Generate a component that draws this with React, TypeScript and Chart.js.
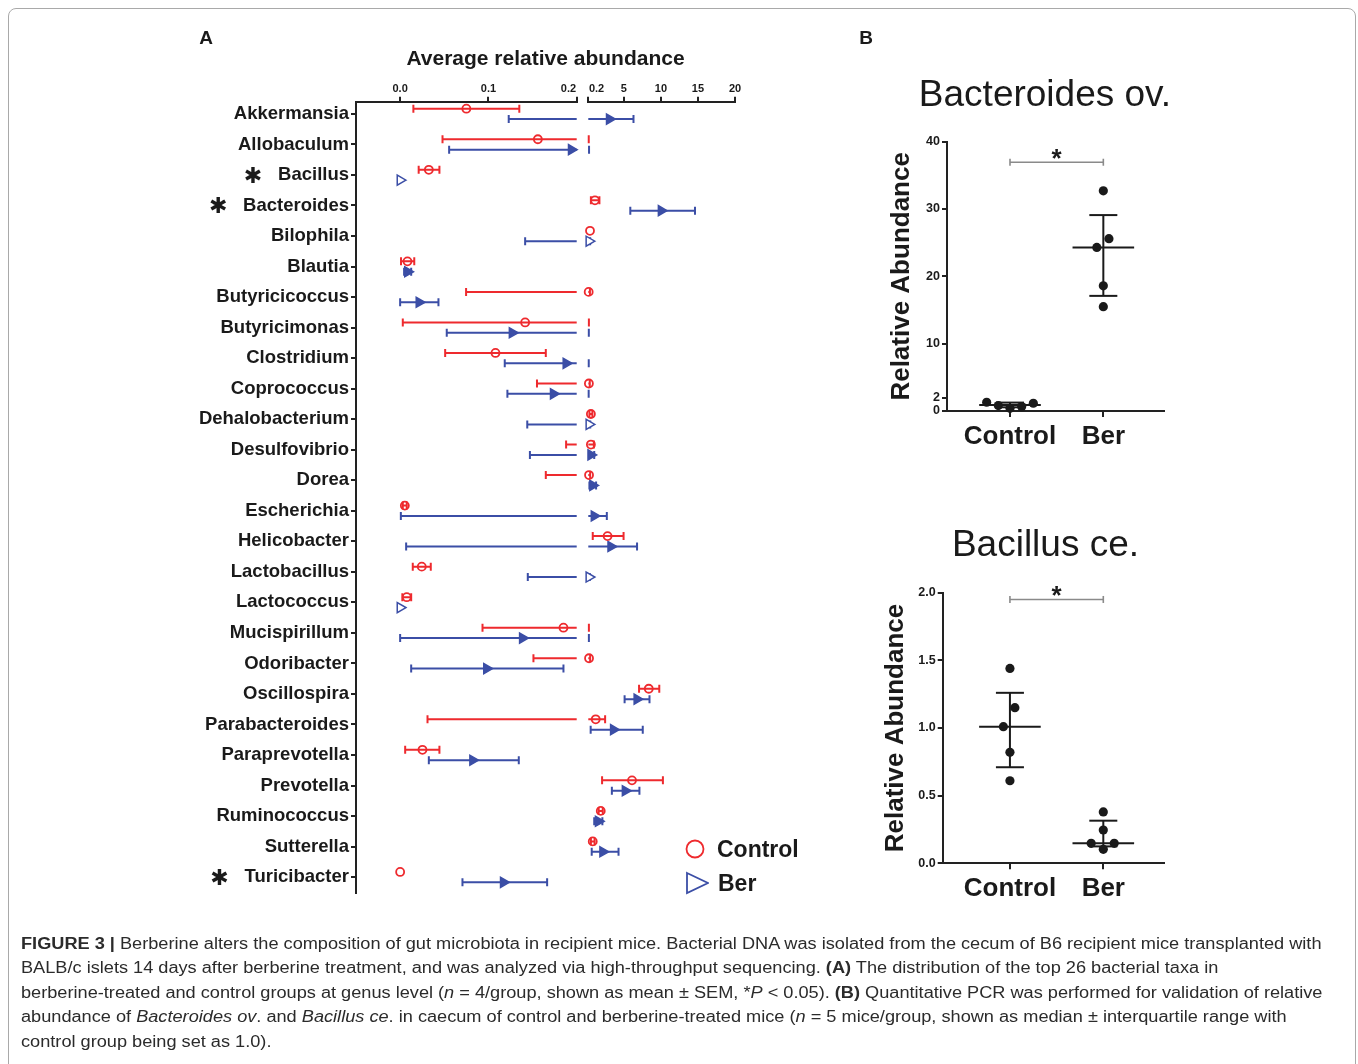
import React, { useEffect, useLayoutEffect, useRef } from 'react';
import { Chart, registerables } from 'chart.js';

Chart.register(...registerables);

const FONT = "'Liberation Sans', Arial, Helvetica, sans-serif";
Chart.defaults.font.family = FONT;
Chart.defaults.color = '#111';

const RED = '#ee2a2e';
const BLUE = '#3b4ea6';
const INK = '#1a1a1a';
const GREY = '#8a8a8a';

// ---------------- Panel A data (average relative abundance) ----------------
const genera = [
  'Akkermansia', 'Allobaculum', 'Bacillus', 'Bacteroides', 'Bilophila', 'Blautia',
  'Butyricicoccus', 'Butyricimonas', 'Clostridium', 'Coprococcus', 'Dehalobacterium',
  'Desulfovibrio', 'Dorea', 'Escherichia', 'Helicobacter', 'Lactobacillus', 'Lactococcus',
  'Mucispirillum', 'Odoribacter', 'Oscillospira', 'Parabacteroides', 'Paraprevotella',
  'Prevotella', 'Ruminococcus', 'Sutterella', 'Turicibacter',
];
const significantGenera = ['Bacillus', 'Bacteroides', 'Turicibacter'];

const controlMean = [0.075, 0.156, 0.0325, 1.1, 0.43, 0.0083, 0.25, 0.1416, 0.108, 0.28, 0.55, 0.55, 0.3, 0.0053, 2.8, 0.0245, 0.0075, 0.185, 0.3, 8.36, 1.2, 0.0253, 6.1, 1.88, 0.8, 0.0];
const controlLow = [0.015, 0.048, 0.021, 0.55, 0.43, 0.001, 0.0747, 0.003, 0.051, 0.155, 0.35, 0.188, 0.165, 0.003, 0.8, 0.0143, 0.0025, 0.0933, 0.151, 7.05, 0.031, 0.0057, 2.06, 1.6, 0.55, 0.0];
const controlHigh = [0.135, 0.26, 0.0445, 1.7, 0.43, 0.016, 0.42, 0.28, 0.165, 0.4, 0.75, 0.95, 0.45, 0.0075, 4.96, 0.0347, 0.0125, 0.28, 0.45, 9.78, 2.47, 0.0445, 10.27, 2.15, 1.05, 0.0];
const berMean = [3.05, 0.194, 0.0, 10.05, 0.3, 0.0085, 0.0215, 0.127, 0.188, 0.1736, 0.3, 0.55, 0.8, 1.0, 3.25, 0.3, 0.0, 0.1386, 0.098, 6.78, 3.6, 0.0823, 5.19, 1.56, 2.16, 0.117];
const berLow = [0.123, 0.0555, 0.0, 5.87, 0.1416, 0.0045, 0.0, 0.0528, 0.1185, 0.1215, 0.144, 0.147, 0.35, 0.0008, 0.0068, 0.1446, 0.0, 0.0, 0.0125, 5.1, 0.52, 0.0325, 3.38, 1.0, 0.66, 0.0706];
const berHigh = [6.3, 0.3, 0.0, 14.6, 0.45, 0.0125, 0.0434, 0.27, 0.26, 0.25, 0.46, 1.0, 1.25, 2.7, 6.78, 0.4, 0.0, 0.28, 0.185, 8.46, 7.55, 0.1344, 7.1, 2.1, 4.28, 0.1665];

const leftTicks = [0, 0.1, 0.2];
const rightTicks = [0.2, 5, 10, 15, 20];
const AXIS_MIN = -0.05;
const BREAK = 0.2;
const AXIS_MAX = 20;
const ROW_OFF = 0.17;

// ---------------- Panel B data (qPCR) ----------------
const groups = ['Control', 'Ber'];
const bacteroidesControl = [1.3, 0.8, 0.4, 0.65, 1.15];
const bacteroidesControlJitter = [-0.25, -0.125, 0, 0.125, 0.25];
const bacteroidesBer = [32.7, 24.3, 25.6, 18.6, 15.5];
const bacteroidesBerJitter = [0, -0.07, 0.06, 0, 0];
const bacteroidesMedian = [0.9, 24.3];
const bacteroidesQ1 = [0.55, 17.1];
const bacteroidesQ3 = [1.25, 29.1];
const bacteroidesTicks = [0, 2, 10, 20, 30, 40];
const bacteroidesSig = 36.95;

const bacillusControl = [1.44, 1.15, 1.01, 0.82, 0.61];
const bacillusControlJitter = [0, 0.053, -0.07, 0, 0];
const bacillusBer = [0.38, 0.246, 0.148, 0.148, 0.103];
const bacillusBerJitter = [0, 0, -0.13, 0.117, 0];
const bacillusMedian = [1.01, 0.148];
const bacillusQ1 = [0.71, 0.125];
const bacillusQ3 = [1.26, 0.315];
const bacillusTicks = [0, 0.5, 1.0, 1.5, 2.0];
const bacillusSig = 1.95;

// ---------------- plugins ----------------
function makeErrorBars(segMin: number, segMax: number) {
  return {
    id: 'errorBars',
    beforeDatasetsDraw(chart: any) {
      const { ctx } = chart;
      const xs = chart.scales.x;
      const ys = chart.scales.y;
      const series = [
        { lo: controlLow, hi: controlHigh, color: RED, dy: -ROW_OFF },
        { lo: berLow, hi: berHigh, color: BLUE, dy: ROW_OFF },
      ];
      ctx.save();
      ctx.lineWidth = 2;
      ctx.lineCap = 'butt';
      for (const s of series) {
        ctx.strokeStyle = s.color;
        genera.forEach((_, i) => {
          const l = s.lo[i];
          const h = s.hi[i];
          if (!(h > l)) return;
          const a = Math.max(l, segMin);
          const b = Math.min(h, segMax);
          if (b < a) return;
          const py = ys.getPixelForValue(i + s.dy);
          const pa = xs.getPixelForValue(a);
          const pb = xs.getPixelForValue(b);
          ctx.beginPath();
          ctx.moveTo(pa, py);
          ctx.lineTo(pb, py);
          if (l >= segMin) {
            ctx.moveTo(pa, py - 4);
            ctx.lineTo(pa, py + 4);
          }
          if (h <= segMax) {
            ctx.moveTo(pb, py - 4);
            ctx.lineTo(pb, py + 4);
          }
          ctx.stroke();
        });
      }
      ctx.restore();
    },
  };
}

const starPlugin = {
  id: 'sigStars',
  afterDraw(chart: any) {
    const { ctx } = chart;
    const ys = chart.scales.y;
    ctx.save();
    significantGenera.forEach((name) => {
      const i = genera.indexOf(name);
      ctx.font = `bold 18.5px ${FONT}`;
      const w = ctx.measureText(name).width;
      const x = ys.right - 7 - w - 25;
      ctx.font = `22px 'DejaVu Sans'`;
      ctx.fillStyle = INK;
      ctx.textAlign = 'center';
      ctx.textBaseline = 'middle';
      ctx.fillText('\u2731', x, ys.getPixelForValue(i) + 2);
    });
    ctx.restore();
  },
};

function makeSigStar(yVal: number) {
  return {
    id: 'sigStar',
    afterDatasetsDraw(chart: any) {
      const { ctx } = chart;
      const xs = chart.scales.x;
      const ys = chart.scales.y;
      const px = (xs.getPixelForValue(0) + xs.getPixelForValue(1)) / 2;
      const py = ys.getPixelForValue(yVal);
      ctx.save();
      ctx.font = `bold 26px ${FONT}`;
      ctx.fillStyle = INK;
      ctx.textAlign = 'center';
      ctx.textBaseline = 'alphabetic';
      ctx.fillText('*', px, py + 5);
      ctx.restore();
    },
  };
}

// ---------------- configs ----------------
const SP = '\u2002\u2002\u2002';

function panelAConfig(isLeft: boolean) {
  const segMin = isLeft ? AXIS_MIN : BREAK;
  const segMax = isLeft ? BREAK : AXIS_MAX;
  const inSeg = (v: number) => (isLeft ? v <= BREAK : v > BREAK);
  const rows = genera.map((_, i) => i);
  const cIdx = rows.filter((i) => inSeg(controlMean[i]));
  const bIdx = rows.filter((i) => inSeg(berMean[i]));
  const hollow = (i: number) => berHigh[i] - berMean[i] < (berMean[i] > BREAK ? 0.2 : 0.002);
  const axisColor = '#222';
  const tickLabel = (v: number) => {
    if (isLeft) return v === BREAK ? v.toFixed(1) + SP : v.toFixed(1);
    return v === BREAK ? SP + '0.2' : String(v);
  };
  return {
    type: 'scatter',
    data: {
      datasets: [
        {
          label: 'Control',
          data: cIdx.map((i) => ({ x: controlMean[i], y: i - ROW_OFF })),
          pointStyle: 'circle',
          pointRadius: 4,
          pointBorderWidth: 1.8,
          pointBorderColor: RED,
          pointBackgroundColor: 'rgba(255,255,255,0)',
          clip: false,
        },
        {
          label: 'Ber',
          data: bIdx.map((i) => ({ x: berMean[i], y: i + ROW_OFF })),
          pointStyle: 'triangle',
          pointRotation: 90,
          pointRadius: 5.8,
          pointBorderWidth: 1.5,
          pointBorderColor: BLUE,
          pointBackgroundColor: bIdx.map((i) => (hollow(i) ? '#ffffff' : BLUE)),
          clip: false,
        },
      ],
    },
    options: {
      responsive: false,
      animation: false,
      events: [],
      layout: {
        padding: isLeft
          ? { left: 0, right: 23.3, top: 0, bottom: 27 }
          : { left: 18.3, right: 25, top: 0, bottom: 27 },
      },
      plugins: { legend: { display: false }, tooltip: { enabled: false } },
      scales: {
        x: {
          type: 'linear',
          position: 'top',
          min: segMin,
          max: segMax,
          afterBuildTicks: (s: any) => {
            s.ticks = (isLeft ? leftTicks : rightTicks).map((v) => ({ value: v }));
          },
          afterFit: (s: any) => {
            s.height = 31.7;
          },
          ticks: {
            autoSkip: false,
            maxRotation: 0,
            padding: 1.5,
            color: INK,
            font: { size: 11, weight: 'bold' },
            callback: (v: number) => tickLabel(v),
          },
          grid: { drawOnChartArea: false, drawTicks: true, tickLength: 5, color: axisColor, lineWidth: 2 },
          border: { display: true, color: axisColor, width: 2 },
        },
        y: {
          type: 'linear',
          display: isLeft,
          reverse: true,
          min: -0.4,
          max: 25.52,
          afterBuildTicks: (s: any) => {
            s.ticks = genera.map((_, i) => ({ value: i }));
          },
          afterFit: (s: any) => {
            s.width = isLeft ? 216 : 0;
          },
          ticks: {
            autoSkip: false,
            padding: 2,
            color: INK,
            font: { size: 18.5, weight: 'bold' },
            callback: (v: number) => genera[v] ?? '',
          },
          grid: { drawOnChartArea: false, drawTicks: true, tickLength: 5, color: axisColor, lineWidth: 2 },
          border: { display: true, color: axisColor, width: 2 },
        },
      },
    },
    plugins: isLeft ? [makeErrorBars(segMin, segMax), starPlugin] : [makeErrorBars(segMin, segMax)],
  };
}

type BParams = {
  yMax: number;
  yTicks: number[];
  fmt: (v: number) => string;
  ctrl: number[];
  ctrlJit: number[];
  ber: number[];
  berJit: number[];
  med: number[];
  q1: number[];
  q3: number[];
  sig: number;
  xMin: number;
  padLeft: number;
  padTop: number;
  yW: number;
  xH: number;
};

function seg(data: { x: number; y: number }[], color = INK, width = 2) {
  return { data, showLine: true, borderColor: color, borderWidth: width, pointRadius: 0, clip: false };
}

function panelBConfig(p: BParams) {
  const datasets: any[] = [];
  groups.forEach((_, g) => {
    datasets.push(seg([{ x: g - 0.33, y: p.med[g] }, { x: g + 0.33, y: p.med[g] }]));
    datasets.push(seg([{ x: g, y: p.q1[g] }, { x: g, y: p.q3[g] }]));
    datasets.push(seg([{ x: g - 0.15, y: p.q1[g] }, { x: g + 0.15, y: p.q1[g] }]));
    datasets.push(seg([{ x: g - 0.15, y: p.q3[g] }, { x: g + 0.15, y: p.q3[g] }]));
  });
  const dots = (vals: number[], jit: number[], g: number) => ({
    data: vals.map((v, i) => ({ x: g + jit[i], y: v })),
    pointStyle: 'circle',
    pointRadius: 4.6,
    pointBorderWidth: 0,
    pointBackgroundColor: INK,
    clip: false,
  });
  datasets.push(dots(p.ctrl, p.ctrlJit, 0));
  datasets.push(dots(p.ber, p.berJit, 1));
  datasets.push({
    data: [{ x: 0, y: p.sig }, { x: 1, y: p.sig }],
    showLine: true,
    borderColor: GREY,
    borderWidth: 1.6,
    pointStyle: 'line',
    pointRotation: 90,
    pointRadius: 3.5,
    pointBorderWidth: 1.6,
    pointBorderColor: GREY,
    clip: false,
  });
  const axisColor = '#222';
  return {
    type: 'scatter',
    data: { datasets },
    options: {
      responsive: false,
      animation: false,
      events: [],
      layout: { padding: { left: p.padLeft, right: 56, top: p.padTop, bottom: 0 } },
      plugins: { legend: { display: false }, tooltip: { enabled: false } },
      scales: {
        x: {
          type: 'linear',
          min: p.xMin,
          max: 1.65,
          afterBuildTicks: (s: any) => {
            s.ticks = groups.map((_, i) => ({ value: i }));
          },
          afterFit: (s: any) => {
            s.height = p.xH;
          },
          ticks: {
            autoSkip: false,
            maxRotation: 0,
            padding: 4,
            color: INK,
            font: { size: 26, weight: 'bold' },
            callback: (v: number) => groups[v] ?? '',
          },
          grid: { drawOnChartArea: false, drawTicks: true, tickLength: 6, color: axisColor, lineWidth: 2 },
          border: { display: true, color: axisColor, width: 2 },
        },
        y: {
          type: 'linear',
          min: 0,
          max: p.yMax,
          afterBuildTicks: (s: any) => {
            s.ticks = p.yTicks.map((v) => ({ value: v }));
          },
          afterFit: (s: any) => {
            s.width = p.yW;
          },
          ticks: {
            autoSkip: false,
            padding: 2,
            color: INK,
            font: { size: 12.5, weight: 'bold' },
            callback: (v: number) => p.fmt(v),
          },
          grid: { drawOnChartArea: false, drawTicks: true, tickLength: 5, color: axisColor, lineWidth: 2 },
          border: { display: true, color: axisColor, width: 2 },
          title: {
            display: true,
            text: 'Relative Abundance',
            color: INK,
            font: { size: 26, weight: 'bold' },
            padding: 0,
          },
        },
      },
    },
    plugins: [makeSigStar(p.sig)],
  };
}

// ---------------- components ----------------
function ChartCanvas({ x, y, w, h, make }: { x: number; y: number; w: number; h: number; make: () => any }) {
  const ref = useRef<HTMLCanvasElement>(null);
  useEffect(() => {
    const chart = new Chart(ref.current as HTMLCanvasElement, make());
    return () => chart.destroy();
  }, []);
  return (
    <canvas
      ref={ref}
      width={w}
      height={h}
      style={{ position: 'absolute', left: x - 8, top: y - 8, width: w, height: h }}
    />
  );
}

function Caption() {
  const ref = useRef<HTMLDivElement>(null);
  useLayoutEffect(() => {
    const el = ref.current;
    if (!el) return;
    const first = el.querySelector('.l1') as HTMLElement;
    const w = first.offsetWidth;
    if (w > 0) el.style.transform = `scaleX(${1300 / w})`;
  }, []);
  return (
    <div
      ref={ref}
      style={{
        position: 'absolute',
        left: 21 - 8,
        top: 931.5 - 8,
        transformOrigin: '0 0',
        font: `16px ${FONT}`,
        lineHeight: '24.5px',
        color: '#2b2b2b',
        whiteSpace: 'nowrap',
      }}
    >
      <div>
        <span className="l1" style={{ display: 'inline-block' }}>
          <b>FIGURE 3 |</b> Berberine alters the composition of gut microbiota in recipient mice. Bacterial DNA was
          isolated from the cecum of B6 recipient mice transplanted with
        </span>
      </div>
      <div>
        BALB/c islets 14 days after berberine treatment, and was analyzed via high-throughput sequencing. <b>(A)</b> The
        distribution of the top 26 bacterial taxa in
      </div>
      <div>
        berberine-treated and control groups at genus level (<i>n</i> = 4/group, shown as mean ± SEM, *<i>P</i> &lt;
        0.05). <b>(B)</b> Quantitative PCR was performed for validation of relative
      </div>
      <div>
        abundance of <i>Bacteroides ov</i>. and <i>Bacillus ce</i>. in caecum of control and berberine-treated mice (
        <i>n</i> = 5 mice/group, shown as median ± interquartile range with
      </div>
      <div>control group being set as 1.0).</div>
    </div>
  );
}

export default function App() {
  const abs = (x: number, y: number) => ({ position: 'absolute' as const, left: x - 8, top: y - 8 });
  const bTitle = { width: 400, textAlign: 'center' as const, font: `37px ${FONT}`, lineHeight: '44px', color: INK };
  return (
    <div style={{ position: 'relative', height: 1056, fontFamily: FONT }}>
      <div
        style={{
          position: 'fixed',
          left: 8,
          top: 8,
          width: 1348,
          height: 1090,
          border: '1px solid #a9a9a9',
          borderRadius: 8,
          boxSizing: 'border-box',
          pointerEvents: 'none',
        }}
      />
      <div style={{ ...abs(196, 27), width: 20, textAlign: 'center', font: `bold 19px ${FONT}`, lineHeight: '22px', color: INK }}>
        A
      </div>
      <div style={{ ...abs(856, 27), width: 20, textAlign: 'center', font: `bold 19px ${FONT}`, lineHeight: '22px', color: INK }}>
        B
      </div>
      <div
        style={{ ...abs(345, 46), width: 401, textAlign: 'center', font: `bold 21px ${FONT}`, lineHeight: '24px', color: INK }}
      >
        Average relative abundance
      </div>

      <ChartCanvas x={140} y={70} w={460} h={850} make={() => panelAConfig(true)} />
      <ChartCanvas x={570} y={70} w={190} h={850} make={() => panelAConfig(false)} />

      <div style={{ ...abs(685, 837), height: 24, display: 'flex', alignItems: 'center' }}>
        <svg width={22} height={22} style={{ display: 'block' }}>
          <circle cx={10} cy={11} r={8.5} fill="none" stroke={RED} strokeWidth={1.8} />
        </svg>
        <span style={{ marginLeft: 10, font: `bold 23px ${FONT}`, lineHeight: '24px', color: INK }}>Control</span>
      </div>
      <div style={{ ...abs(685, 871), height: 24, display: 'flex', alignItems: 'center' }}>
        <svg width={24} height={24} style={{ display: 'block' }}>
          <polygon points="2,2 23,12 2,22" fill="none" stroke={BLUE} strokeWidth={1.8} />
        </svg>
        <span style={{ marginLeft: 9, font: `bold 23px ${FONT}`, lineHeight: '24px', color: INK }}>Ber</span>
      </div>

      <div style={{ ...abs(845, 72), ...bTitle }}>Bacteroides ov.</div>
      <div style={{ ...abs(845.5, 522), ...bTitle }}>Bacillus ce.</div>

      <ChartCanvas
        x={870}
        y={120}
        w={350}
        h={340}
        make={() =>
          panelBConfig({
            yMax: 40,
            yTicks: bacteroidesTicks,
            fmt: (v) => String(v),
            ctrl: bacteroidesControl,
            ctrlJit: bacteroidesControlJitter,
            ber: bacteroidesBer,
            berJit: bacteroidesBerJitter,
            med: bacteroidesMedian,
            q1: bacteroidesQ1,
            q3: bacteroidesQ3,
            sig: bacteroidesSig,
            xMin: -0.675,
            padLeft: 16.1,
            padTop: 21.7,
            yW: 60.9,
            xH: 49,
          })
        }
      />
      <ChartCanvas
        x={870}
        y={570}
        w={350}
        h={340}
        make={() =>
          panelBConfig({
            yMax: 2,
            yTicks: bacillusTicks,
            fmt: (v) => v.toFixed(1),
            ctrl: bacillusControl,
            ctrlJit: bacillusControlJitter,
            ber: bacillusBer,
            berJit: bacillusBerJitter,
            med: bacillusMedian,
            q1: bacillusQ1,
            q3: bacillusQ3,
            sig: bacillusSig,
            xMin: -0.72,
            padLeft: 10.4,
            padTop: 22.7,
            yW: 62.3,
            xH: 46.7,
          })
        }
      />

      <Caption />
    </div>
  );
}
